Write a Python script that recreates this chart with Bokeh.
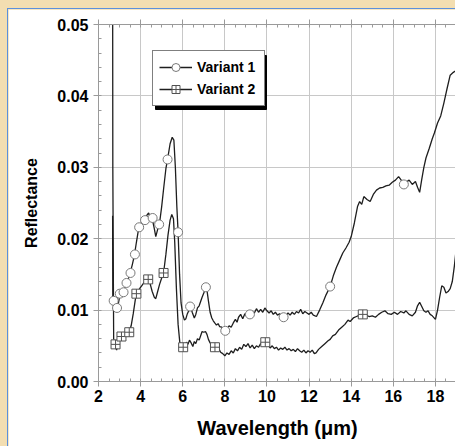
from bokeh.plotting import figure
from bokeh.models import (Range1d, LinearAxis, Legend, LegendItem, SingleIntervalTicker,
                          PrintfTickFormatter, BoxAnnotation)
from bokeh.layouts import column
from bokeh.embed import file_html
from bokeh.resources import INLINE

# ---------------- data ----------------
v1_x = [2.67, 2.68, 2.75, 2.85, 2.92, 3.0, 3.1, 3.2, 3.3, 3.4, 3.5, 3.6, 3.7, 3.8, 3.9, 4.0, 4.1, 4.2, 4.3, 4.38,
        4.45, 4.55, 4.65, 4.72, 4.8, 4.9, 5.0, 5.1, 5.2, 5.3, 5.4, 5.5, 5.58, 5.65, 5.72, 5.78, 5.85, 5.92, 6.0, 6.08,
        6.15, 6.22, 6.3, 6.38, 6.45, 6.55, 6.62, 6.7, 6.78, 6.85, 6.92, 7.0, 7.08, 7.15, 7.22, 7.3, 7.38, 7.45, 7.52, 7.6,
        7.68, 7.75, 7.85, 7.95, 8.02, 8.1, 8.2, 8.3, 8.4, 8.5, 8.58, 8.65, 8.75, 8.85, 8.95, 9.05, 9.19, 9.3, 9.4, 9.5,
        9.6, 9.7, 9.8, 9.9, 10.0, 10.1, 10.2, 10.3, 10.4, 10.5, 10.6, 10.79, 10.9, 11.0, 11.1, 11.2, 11.3, 11.4, 11.5, 11.6,
        11.7, 11.8, 11.9, 12.0, 12.1, 12.2, 12.35, 12.5, 12.65, 12.8, 13.0, 13.15, 13.3, 13.45, 13.6, 13.75, 13.9, 14.0, 14.15, 14.3,
        14.4, 14.5, 14.6, 14.75, 14.9, 15.05, 15.2, 15.35, 15.5, 15.65, 15.8, 15.95, 16.1, 16.25, 16.35, 16.5, 16.6, 16.75, 16.9, 17.05,
        17.15, 17.25, 17.35, 17.45, 17.55, 17.7, 17.85, 17.95, 18.1, 18.25, 18.4, 18.55, 18.7, 18.85, 19.0]
v1_y = [0.0232, 0.0115, 0.0110, 0.0098, 0.0106, 0.0118, 0.0121, 0.0126, 0.0136, 0.0142, 0.0152, 0.0163, 0.0176, 0.0195, 0.0213, 0.0220, 0.0224, 0.0228, 0.0233, 0.0236,
        0.0231, 0.0228, 0.0214, 0.0203, 0.0212, 0.0222, 0.0245, 0.0272, 0.0298, 0.0315, 0.0333, 0.0342, 0.0338, 0.0300, 0.0245, 0.0209, 0.0150, 0.0110, 0.0094, 0.0086,
        0.0088, 0.0095, 0.0100, 0.0104, 0.0097, 0.0089, 0.0094, 0.0103, 0.0106, 0.0112, 0.0118, 0.0124, 0.0131, 0.0128, 0.0113, 0.0097, 0.0089, 0.0085, 0.0082, 0.0079,
        0.0081, 0.0077, 0.0076, 0.0072, 0.0071, 0.0073, 0.0078, 0.0076, 0.0082, 0.0087, 0.0083, 0.0090, 0.0094, 0.0088, 0.0095, 0.0092, 0.0094, 0.0098, 0.0096, 0.0102,
        0.0097, 0.0101, 0.0097, 0.0103, 0.0099, 0.0096, 0.0099, 0.0094, 0.0097, 0.0093, 0.0095, 0.0090, 0.0092, 0.0096, 0.0093, 0.0097, 0.0094, 0.0098, 0.0096, 0.0101,
        0.0095, 0.0098, 0.0096, 0.0094, 0.0097, 0.0093, 0.0091, 0.0100, 0.0110, 0.0121, 0.0133, 0.0148, 0.0160, 0.0170, 0.0180, 0.0187, 0.0195, 0.0203, 0.0222, 0.0245,
        0.0252, 0.0248, 0.0259, 0.0255, 0.0252, 0.0262, 0.0268, 0.0271, 0.0272, 0.0274, 0.0275, 0.0279, 0.0282, 0.0287, 0.0283, 0.0276, 0.0279, 0.0282, 0.0276, 0.0280,
        0.0272, 0.0265, 0.0283, 0.0300, 0.0313, 0.0326, 0.0340, 0.0348, 0.0362, 0.0372, 0.0390, 0.0410, 0.0429, 0.0433, 0.0436]

v1_mark_x = [2.72, 2.88, 3.01, 3.19, 3.33, 3.52, 3.73, 3.93, 4.21, 4.57, 4.88, 5.28, 5.78, 6.35, 7.1, 8.02, 9.19, 10.79, 13.0, 16.5]
v1_mark_y = [0.0113, 0.0103, 0.0123, 0.0125, 0.0138, 0.0152, 0.0178, 0.0216, 0.0226, 0.0229, 0.0220, 0.0311, 0.0209, 0.0105, 0.0132, 0.0071, 0.0094, 0.0090, 0.0133, 0.0276]

v2_x = [2.67, 2.68, 2.72, 2.8, 2.86, 2.92, 3.0, 3.09, 3.2, 3.3, 3.45, 3.55, 3.65, 3.75, 3.85, 3.95, 4.05, 4.15, 4.25, 4.36,
        4.45, 4.55, 4.65, 4.72, 4.8, 4.9, 5.0, 5.09, 5.2, 5.3, 5.4, 5.48, 5.56, 5.62, 5.7, 5.78, 5.86, 5.95, 6.02, 6.1,
        6.18, 6.25, 6.32, 6.4, 6.48, 6.55, 6.62, 6.7, 6.78, 6.85, 6.92, 7.0, 7.08, 7.15, 7.22, 7.3, 7.4, 7.53, 7.62, 7.7,
        7.8, 7.9, 8.0, 8.1, 8.2, 8.3, 8.4, 8.5, 8.6, 8.7, 8.8, 8.9, 9.0, 9.1, 9.2, 9.3, 9.4, 9.5, 9.6, 9.7,
        9.8, 9.92, 10.05, 10.15, 10.25, 10.35, 10.45, 10.55, 10.65, 10.75, 10.85, 10.95, 11.05, 11.15, 11.25, 11.35, 11.45, 11.55, 11.65, 11.75,
        11.85, 11.95, 12.05, 12.15, 12.25, 12.33, 12.45, 12.6, 12.75, 12.9, 13.0, 13.12, 13.25, 13.4, 13.55, 13.7, 13.85, 13.95, 14.1, 14.25,
        14.4, 14.55, 14.7, 14.85, 15.0, 15.15, 15.3, 15.45, 15.6, 15.75, 15.9, 16.05, 16.2, 16.35, 16.5, 16.6, 16.75, 16.9, 17.05, 17.15,
        17.25, 17.35, 17.45, 17.55, 17.65, 17.75, 17.85, 18.0, 18.1, 18.2, 18.3, 18.4, 18.5, 18.6, 18.7, 18.8, 18.9, 19.0]
v2_y = [0.0600, 0.0300, 0.0060, 0.0050, 0.0044, 0.0055, 0.0060, 0.0063, 0.0066, 0.0068, 0.0069, 0.0078, 0.0095, 0.0115, 0.0124, 0.0130, 0.0134, 0.0138, 0.0141, 0.0143,
        0.0137, 0.0126, 0.0118, 0.0116, 0.0125, 0.0136, 0.0145, 0.0152, 0.0178, 0.0205, 0.0226, 0.0234, 0.0228, 0.0195, 0.0130, 0.0080, 0.0055, 0.0049, 0.0048, 0.0049,
        0.0055, 0.0052, 0.0058, 0.0054, 0.0049, 0.0056, 0.0053, 0.0060, 0.0058, 0.0064, 0.0070, 0.0069, 0.0070, 0.0066, 0.0059, 0.0054, 0.0050, 0.0048, 0.0045, 0.0047,
        0.0041, 0.0039, 0.0036, 0.0040, 0.0038, 0.0043, 0.0040, 0.0046, 0.0043, 0.0048, 0.0045, 0.0052, 0.0049, 0.0053, 0.0047, 0.0051, 0.0046, 0.0050, 0.0048, 0.0053,
        0.0050, 0.0054, 0.0052, 0.0047, 0.0050, 0.0046, 0.0048, 0.0044, 0.0047, 0.0045, 0.0048, 0.0044, 0.0046, 0.0043, 0.0045, 0.0042, 0.0046, 0.0043, 0.0041, 0.0044,
        0.0040, 0.0043, 0.0041, 0.0044, 0.0039, 0.0040, 0.0045, 0.0049, 0.0053, 0.0057, 0.0059, 0.0064, 0.0066, 0.0072, 0.0076, 0.0080, 0.0086, 0.0084, 0.0089, 0.0091,
        0.0093, 0.0094, 0.0093, 0.0091, 0.0092, 0.0090, 0.0094, 0.0097, 0.0099, 0.0095, 0.0094, 0.0097, 0.0094, 0.0098, 0.0096, 0.0099, 0.0094, 0.0092, 0.0097, 0.0106,
        0.0111, 0.0105, 0.0099, 0.0097, 0.0099, 0.0094, 0.0092, 0.0087, 0.0100, 0.0118, 0.0134, 0.0132, 0.0124, 0.0126, 0.0130, 0.0140, 0.0162, 0.0190]

v2_mark_x = [2.81, 3.09, 3.46, 3.8, 4.36, 5.09, 6.02, 7.53, 9.92, 14.55]
v2_mark_y = [0.0052, 0.0063, 0.0069, 0.0123, 0.0143, 0.0152, 0.0048, 0.0048, 0.0055, 0.0094]

series_names = ["Variant 1", "Variant 2"]
x_title = "Wavelength (\u03bcm)"
y_title = "Reflectance"

# ---------------- figure ----------------
FONT = "Liberation Sans"
GRID = "#c8c8c8"
AX = "#9a9a9a"

p = figure(output_backend="svg", toolbar_location=None,
           width=448, height=438,
           x_range=Range1d(2, 19), y_range=Range1d(0, 0.05),
           min_border_left=90, min_border_top=15, min_border_right=0, min_border_bottom=66,
           background_fill_color="white", border_fill_color="white",
           outline_line_color=AX)
p.margin = (8, 0, 0, 7)

p.xaxis.ticker = SingleIntervalTicker(interval=2, num_minor_ticks=4)
p.yaxis.ticker = SingleIntervalTicker(interval=0.01, num_minor_ticks=5)
p.xgrid.ticker = p.xaxis.ticker
p.ygrid.ticker = p.yaxis.ticker
p.yaxis.formatter = PrintfTickFormatter(format="%.2f")

for ax in (p.xaxis[0], p.yaxis[0]):
    ax.axis_line_color = AX
    ax.major_tick_line_color = AX
    ax.minor_tick_line_color = AX
    ax.major_tick_out = 5
    ax.major_tick_in = 0
    ax.minor_tick_in = 3
    ax.minor_tick_out = 0
    ax.major_label_text_font = FONT
    ax.major_label_text_font_style = "bold"
    ax.major_label_text_font_size = "16px"
    ax.major_label_text_color = "black"
    ax.axis_label_text_font = FONT
    ax.axis_label_text_font_style = "bold"
    ax.axis_label_text_color = "black"

p.xaxis.major_label_standoff = 3
p.yaxis.major_label_standoff = 5
p.xaxis.axis_label = x_title
p.yaxis.axis_label = y_title
p.xaxis.axis_label_text_font_size = "20px"
p.yaxis.axis_label_text_font_size = "16px"
p.xaxis.axis_label_standoff = 12
p.yaxis.axis_label_standoff = 14

top = LinearAxis(ticker=SingleIntervalTicker(interval=2, num_minor_ticks=4),
                 formatter=PrintfTickFormatter(format=""),
                 axis_line_color=AX, major_tick_line_color=AX, minor_tick_line_color=AX,
                 major_tick_out=5, major_tick_in=0, minor_tick_in=3, minor_tick_out=0,
                 major_label_standoff=0)
p.add_layout(top, "above")

p.xgrid.grid_line_color = GRID
p.ygrid.grid_line_color = GRID

LINE = "#1e1e1e"
l1 = p.line(v1_x, v1_y, line_color=LINE, line_width=1.3)
l2 = p.line(v2_x, v2_y, line_color=LINE, line_width=1.3)
m1 = p.scatter(v1_mark_x, v1_mark_y, marker="circle", size=9, fill_color="white",
               line_color="#7a7a7a", line_width=1)
m2 = p.scatter(v2_mark_x, v2_mark_y, marker="square_cross", size=9, fill_color="white",
               line_color="#505050", line_width=1)

LEG_X, LEG_Y, LEG_W, LEG_H = 54, 275, 111, 54
shadow = BoxAnnotation(left=LEG_X + 3, right=LEG_X + 3 + LEG_W, bottom=LEG_Y - 3, top=LEG_Y - 3 + LEG_H,
                       left_units="screen", right_units="screen", top_units="screen", bottom_units="screen",
                       fill_color="black", fill_alpha=1, line_color="black", line_alpha=1)
p.add_layout(shadow)

legend = Legend(items=[LegendItem(label=series_names[0], renderers=[l1, m1]),
                       LegendItem(label=series_names[1], renderers=[l2, m2])],
                location=(LEG_X, LEG_Y), orientation="vertical",
                background_fill_color="white", background_fill_alpha=1,
                border_line_color="black", border_line_width=1,
                label_text_font=FONT, label_text_font_style="bold",
                label_text_font_size="14px", label_text_color="black",
                glyph_width=33, glyph_height=20, label_height=20, label_width=61,
                label_standoff=5, spacing=2, padding=6, margin=0)
p.add_layout(legend, "center")

p.styles = {"border-left": "1px solid #5b90dc", "border-top": "1px solid #5b90dc"}
layout = column(p, styles={"background-color": "#f3deb1"})

open("out.html", "w").write(file_html(layout, INLINE))
